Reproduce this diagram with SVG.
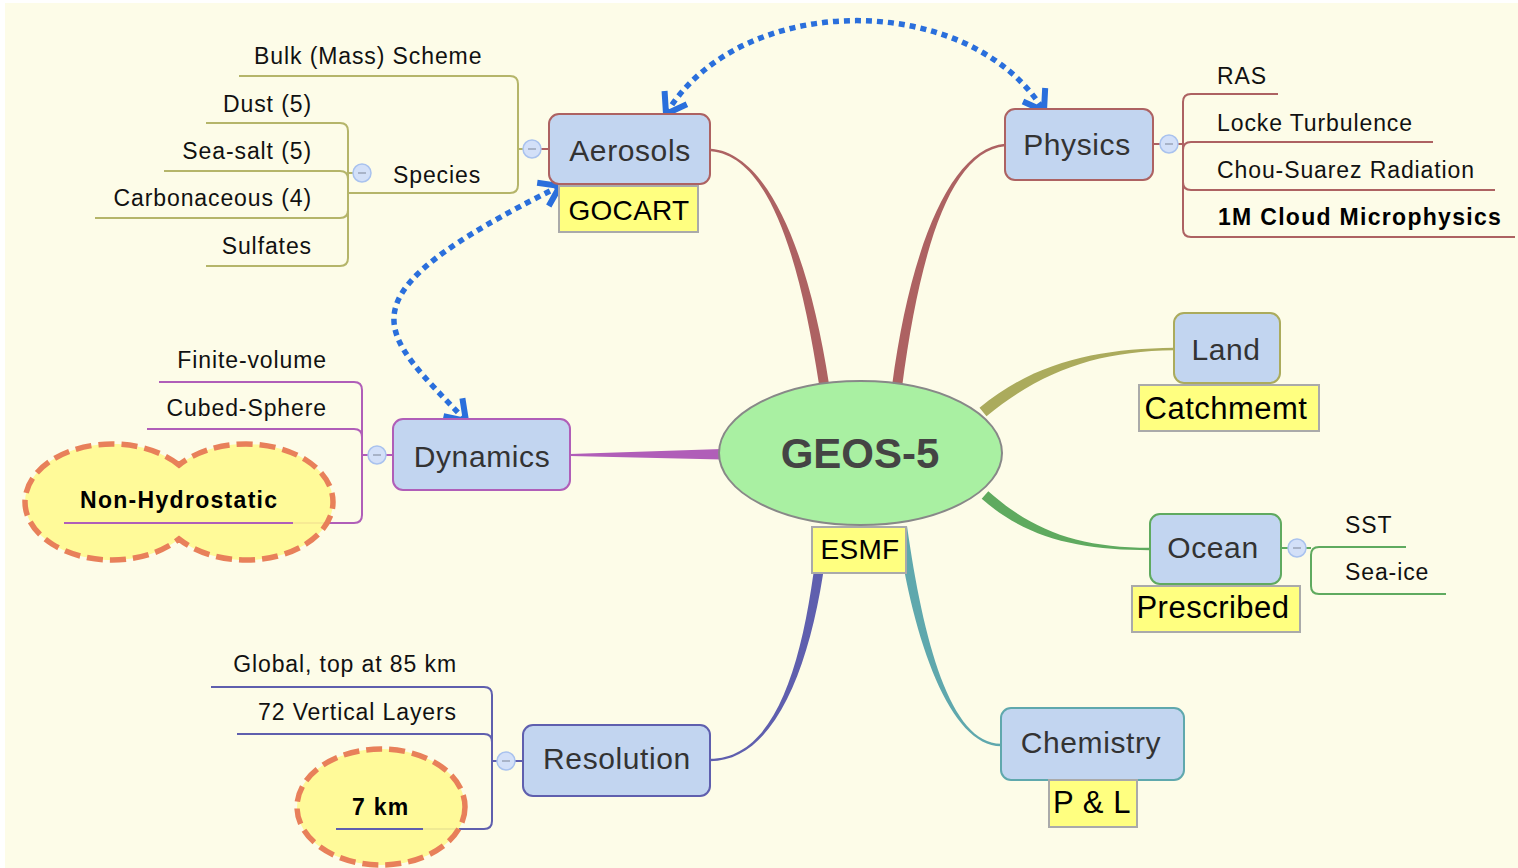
<svg xmlns="http://www.w3.org/2000/svg" width="1518" height="868" viewBox="0 0 1518 868">
<defs>
<style>
.bg{fill:#fdfce8}
.box{fill:#c2d5f0;stroke-width:2}
.lbl{fill:#ffff80;stroke:#aaaaaa;stroke-width:2}
.nt{font-family:"Liberation Sans",Arial,sans-serif;font-size:30px;fill:#333;text-anchor:middle;letter-spacing:0.6px}
.lt{font-family:"Liberation Sans",Arial,sans-serif;font-size:31px;fill:#000;text-anchor:middle;letter-spacing:0.5px}
.lts{font-family:"Liberation Sans",Arial,sans-serif;font-size:28px;fill:#000;text-anchor:middle;letter-spacing:0.3px}
.st{font-family:"Liberation Sans",Arial,sans-serif;font-size:23px;fill:#111;letter-spacing:0.9px}
.sb{font-family:"Liberation Sans",Arial,sans-serif;font-size:23px;fill:#000;font-weight:bold;letter-spacing:1.3px}
.br{fill:none;stroke-width:2}
.col{fill:#d3e0f8;stroke:#a9c2ee;stroke-width:1.5}
.minus{stroke:#9aa4b8;stroke-width:1.5}
.dot{fill:none;stroke:#2a6fdc;stroke-width:5.5;stroke-dasharray:6 5}
.cloud{fill:#fffa90;stroke:#e8805a;stroke-width:5.5;stroke-dasharray:16 7}
</style>
<marker id="chev" viewBox="-24 -16 28 32" markerWidth="28" markerHeight="32" refX="0" refY="0" orient="auto-start-reverse" markerUnits="userSpaceOnUse">
<path d="M -19,-13 L 0,0 L -19,13" fill="none" stroke="#2a6fdc" stroke-width="6" stroke-dasharray="none" stroke-linejoin="miter"/>
</marker>
</defs>
<rect x="0" y="0" width="1518" height="868" fill="#ffffff"/>
<rect class="bg" x="5" y="3" width="1513" height="865"/>

<g id="connectors">
<path d="M 710.9,151.2 C 769.9,156.2 800.1,260.8 819.1,385 L 828.9,383.4 C 809.9,259.2 770.1,153.8 711.1,148.8 Z" fill="#ad6262"/>
<path d="M 1004.9,143.8 C 949.9,148.8 910,249.3 892,386 L 902,387.4 C 920,250.7 950.1,151.2 1005.1,146.2 Z" fill="#ad6262"/>
<path d="M 1174,347.8 C 1100,348.8 1036.5,360.75 979.5,407.75 L 986.5,416.25 C 1043.5,369.25 1100,351.2 1174,350.2 Z" fill="#abab5c"/>
<path d="M 1150,547.8 C 1080,547.8 1033.3,531.3 988.3,491.3 L 981.7,498.7 C 1026.7,538.7 1080,550.2 1150,550.2 Z" fill="#5faa5f"/>
<path d="M 1001,743.8 C 950,743.8 923,639.3 907,526 L 897,527 C 913,640.7 950,746.2 1001,746.2 Z" fill="#5fa8ad"/>
<path d="M 710,761.2 C 780,761.2 817,650.5 829,527 L 819,526 C 807,649.5 780,758.8 710,758.8 Z" fill="#5f5fae"/>
<path d="M 570,454 L 722,449 L 722,459.5 L 570,456 Z" fill="#b05eb8"/>

<path class="br" stroke="#b5b56a" d="M 239,76 H 510 Q 518,76 518,84 V 185 Q 518,193 510,193 H 348 M 518,149 H 523"/>
<path class="br" stroke="#ad6262" d="M 541,149 H 549"/>
<path class="br" stroke="#b5b56a" d="M 206,123 H 340 Q 348,123 348,131 V 258 Q 348,266 340,266 H 206 M 164,171 H 340 Q 348,171 348,179 M 95,218 H 340 Q 348,218 348,210 M 348,173 H 353"/>
<path class="br" stroke="#ad6262" d="M 1153,144 H 1160 M 1178,144 H 1183 M 1278,94 H 1191 Q 1183,94 1183,102 V 229 Q 1183,237 1191,237 H 1515 M 1183,150 Q 1183,142 1191,142 H 1433 M 1183,182 Q 1183,190 1191,190 H 1495"/>
<path class="br" stroke="#b05eb8" d="M 159,382 H 354 Q 362,382 362,390 V 515 Q 362,523 354,523 H 64 M 147,429 H 354 Q 362,429 362,437 M 362,455 H 368 M 386,455 H 393"/>
<path class="br" stroke="#5faa5f" d="M 1281,548 H 1288 M 1306,548 H 1311 M 1406,547 H 1319 Q 1311,547 1311,555 V 586 Q 1311,594 1319,594 H 1446"/>
<path class="br" stroke="#5f5fae" d="M 211,687 H 484 Q 492,687 492,695 V 821 Q 492,829 484,829 H 336 M 237,734 H 484 Q 492,734 492,742 M 492,761 H 497 M 515,761 H 523"/>

<path class="dot" d="M 666,114 C 740,-10 970,-10 1044,111" marker-start="url(#chev)" marker-end="url(#chev)"/>
<path class="dot" d="M 560,186 C 330,300 380,330 466,421" marker-start="url(#chev)" marker-end="url(#chev)"/>
</g>

<g id="geos5">
<ellipse cx="860.5" cy="453" rx="141.5" ry="72" fill="#a9f0a2" stroke="#888888" stroke-width="2"/>
<text x="860" y="468" font-family="Liberation Sans, Arial, sans-serif" font-size="42" font-weight="bold" fill="#444" text-anchor="middle">GEOS-5</text>
<rect class="lbl" x="812" y="527" width="94" height="46"/>
<text class="lts" x="860" y="559">ESMF</text>
</g>

<g id="aerosols">
<rect class="box" x="549" y="114" width="161" height="70" rx="10" stroke="#ad6262"/>
<text class="nt" x="630" y="161">Aerosols</text>
<rect class="lbl" x="559" y="186" width="139" height="46"/>
<text class="lts" x="629" y="220">GOCART</text>
<circle class="col" cx="532" cy="149" r="9"/>
<line class="minus" x1="528" y1="149" x2="536" y2="149"/>
</g>
<g id="aerosols-children">
<text class="st" x="254" y="64">Bulk (Mass) Scheme</text>
<text class="st" x="393" y="183">Species</text>
<circle class="col" cx="362" cy="173" r="9"/>
<line class="minus" x1="358" y1="173" x2="366" y2="173"/>
<text class="st" x="312" y="112" text-anchor="end">Dust (5)</text>
<text class="st" x="312" y="159" text-anchor="end">Sea-salt (5)</text>
<text class="st" x="312" y="206" text-anchor="end">Carbonaceous (4)</text>
<text class="st" x="312" y="254" text-anchor="end">Sulfates</text>
</g>

<g id="physics">
<rect class="box" x="1005" y="109" width="148" height="71" rx="10" stroke="#ad6262"/>
<text class="nt" x="1077" y="155">Physics</text>
<circle class="col" cx="1169" cy="144" r="9"/>
<line class="minus" x1="1165" y1="144" x2="1173" y2="144"/>
<text class="st" x="1217" y="84">RAS</text>
<text class="st" x="1217" y="131">Locke Turbulence</text>
<text class="st" x="1217" y="178">Chou-Suarez Radiation</text>
<text class="sb" x="1218" y="225">1M Cloud Microphysics</text>
</g>

<g id="land">
<rect class="box" x="1174" y="313" width="106" height="70" rx="10" stroke="#abab5c"/>
<text class="nt" x="1226" y="360">Land</text>
<rect class="lbl" x="1139" y="385" width="180" height="46"/>
<text class="lt" x="1226" y="419">Catchmemt</text>
</g>

<g id="ocean">
<rect class="box" x="1150" y="514" width="131" height="70" rx="10" stroke="#5faa5f"/>
<text class="nt" x="1213" y="558">Ocean</text>
<rect class="lbl" x="1132" y="586" width="168" height="46"/>
<text class="lt" x="1213" y="618">Prescribed</text>
<circle class="col" cx="1297" cy="548" r="9"/>
<line class="minus" x1="1293" y1="548" x2="1301" y2="548"/>
<text class="st" x="1345" y="533">SST</text>
<text class="st" x="1345" y="580">Sea-ice</text>
</g>

<g id="chemistry">
<rect class="box" x="1001" y="708" width="183" height="72" rx="10" stroke="#5fa8ad"/>
<text class="nt" x="1091" y="753">Chemistry</text>
<rect class="lbl" x="1049" y="780" width="88" height="47"/>
<text class="lt" x="1092" y="813">P &amp; L</text>
</g>

<g id="dynamics">
<rect class="box" x="393" y="419" width="177" height="71" rx="10" stroke="#b05eb8"/>
<text class="nt" x="482" y="467">Dynamics</text>
<circle class="col" cx="377" cy="455" r="9"/>
<line class="minus" x1="373" y1="455" x2="381" y2="455"/>
<text class="st" x="327" y="368" text-anchor="end">Finite-volume</text>
<text class="st" x="327" y="416" text-anchor="end">Cubed-Sphere</text>
</g>
<g id="non-hydrostatic">
<path class="cloud" d="M 179,465 A 87 58 0 1 0 179,539 A 87 58 0 1 0 179,465 Z" fill-opacity="0.9"/>
<line x1="64" y1="523" x2="293" y2="523" stroke="#b05eb8" stroke-width="2"/>
<text class="sb" x="80" y="508">Non-Hydrostatic</text>
</g>

<g id="resolution">
<rect class="box" x="523" y="725" width="187" height="71" rx="10" stroke="#5f5fae"/>
<text class="nt" x="617" y="769">Resolution</text>
<circle class="col" cx="506" cy="761" r="9"/>
<line class="minus" x1="502" y1="761" x2="510" y2="761"/>
<text class="st" x="457" y="672" text-anchor="end">Global, top at 85 km</text>
<text class="st" x="457" y="720" text-anchor="end">72 Vertical Layers</text>
</g>
<g id="seven-km">
<ellipse class="cloud" cx="381" cy="807" rx="84" ry="58" fill-opacity="0.9"/>
<line x1="336" y1="829" x2="423" y2="829" stroke="#5f5fae" stroke-width="2"/>
<text class="sb" x="352" y="815">7 km</text>
</g>
</svg>
